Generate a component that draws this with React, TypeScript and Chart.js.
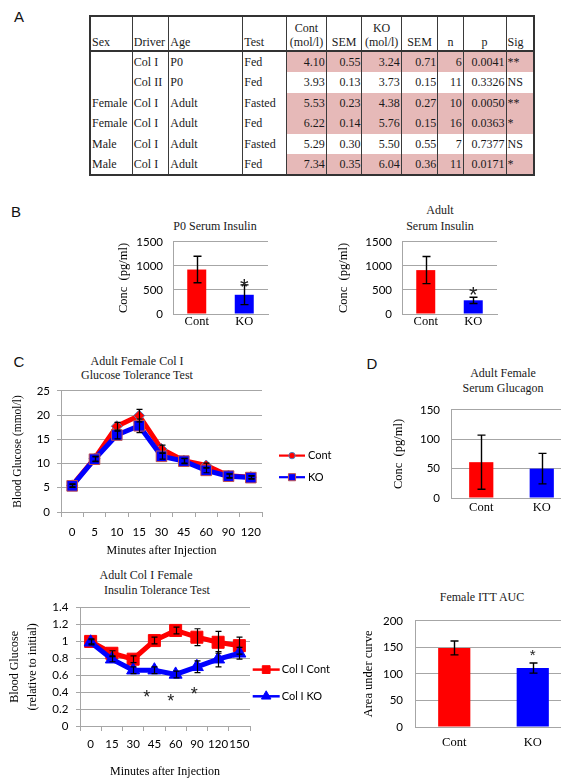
import React, { useEffect, useRef } from "react";
import { Chart, registerables } from "chart.js";
import { drawPoint } from "chart.js/helpers";
Chart.register(...registerables);

// ---------------- Table (panel A) ----------------
const tSex = ["", "", "Female", "Female", "Male", "Male"];
const tDriver = ["Col I", "Col II", "Col I", "Col I", "Col I", "Col I"];
const tAge = ["P0", "P0", "Adult", "Adult", "Adult", "Adult"];
const tTest = ["Fed", "Fed", "Fasted", "Fed", "Fasted", "Fed"];
const tCont = ["4.10", "3.93", "5.53", "6.22", "5.29", "7.34"];
const tContSem = ["0.55", "0.13", "0.23", "0.14", "0.30", "0.35"];
const tKO = ["3.24", "3.73", "4.38", "5.76", "5.50", "6.04"];
const tKOSem = ["0.71", "0.15", "0.27", "0.15", "0.55", "0.36"];
const tN = ["6", "11", "10", "16", "7", "11"];
const tP = ["0.0041", "0.3326", "0.0050", "0.0363", "0.7377", "0.0171"];
const tSig = ["**", "NS", "**", "*", "NS", "*"];

// ---------------- Bar charts ----------------
const groups = ["Cont", "KO"];
const p0Insulin = [925, 400];
const p0InsulinErr = [275, 205];
const p0StarIdx = [1];
const p0StarVal = [674];

const adultInsulin = [913, 285];
const adultInsulinErr = [282, 65];
const adultStarIdx = [1];
const adultStarVal = [494];

const glucagon = [61, 50];
const glucagonErr = [46, 26];

const ittAuc = [149, 111];
const ittAucErr = [13, 9.5];
const aucStarIdx = [1];
const aucStarVal = [141];

// ---------------- GTT ----------------
const gttSeries = ["Cont", "KO"];
const gttMinutes = ["0", "5", "10", "15", "30", "45", "60", "90", "120"];
const gttCont = [5.5, 11.0, 17.7, 19.9, 13.0, 10.6, 9.6, 7.5, 7.2];
const gttContErr = [0.3, 0.5, 0.8, 1.3, 0.8, 0.5, 0.5, 0.4, 0.3];
const gttKO = [5.4, 10.9, 15.9, 17.8, 11.5, 10.5, 8.6, 7.4, 7.1];
const gttKOErr = [0.3, 0.5, 0.8, 1.4, 0.6, 0.5, 0.5, 0.4, 0.3];

// ---------------- ITT ----------------
const ittSeries = ["Col I Cont", "Col I KO"];
const ittMinutes = ["0", "15", "30", "45", "60", "90", "120", "150"];
const ittCont = [1.0, 0.86, 0.79, 1.01, 1.13, 1.05, 0.99, 0.95];
const ittContErr = [0.03, 0.03, 0.04, 0.04, 0.04, 0.1, 0.13, 0.1];
const ittKO = [0.99, 0.79, 0.66, 0.66, 0.61, 0.7, 0.79, 0.86];
const ittKOErr = [0.03, 0.03, 0.04, 0.04, 0.04, 0.07, 0.09, 0.07];
const ittStarIdx = [2.64, 3.77, 4.88];
const ittStarVal = [0.39, 0.34, 0.42];

// ---------------- styles ----------------
const SERIF = "'Liberation Serif', 'Times New Roman', Times, serif";
const SANS = "Lato, 'Open Sans', Arial, sans-serif";
const RED = "#ff0000";
const BLUE = "#0000ff";
const GRID = "#a6a6a6";
const TICKFONT = { family: SANS, size: 11.5 };
const plainTick = (v: any) => String(parseFloat(Number(v).toFixed(4)));

type Box = { x: number; y: number; w: number; h: number };

function ChartCanvas({ box, make }: { box: Box; make: () => any }) {
  const ref = useRef<HTMLCanvasElement>(null);
  useEffect(() => {
    const chart = new Chart(ref.current as HTMLCanvasElement, make());
    return () => chart.destroy();
  }, []);
  return (
    <canvas
      ref={ref}
      width={box.w}
      height={box.h}
      style={{ position: "absolute", left: box.x, top: box.y, width: box.w, height: box.h }}
    />
  );
}

function errorBars(sets: (number[] | null)[], cap: number, lw = 1.4) {
  return {
    id: "errorBars",
    afterDatasetsDraw(chart: any) {
      const ctx = chart.ctx;
      const ys = chart.scales.y;
      ctx.save();
      ctx.strokeStyle = "#000";
      ctx.lineWidth = lw;
      sets.forEach((errs, di) => {
        if (!errs) return;
        const meta = chart.getDatasetMeta(di);
        const data = chart.data.datasets[di].data as number[];
        meta.data.forEach((el: any, i: number) => {
          const e = errs[i];
          if (!e) return;
          const x = Math.round(el.x) + 0.5;
          const t = ys.getPixelForValue(data[i] + e);
          const b = ys.getPixelForValue(data[i] - e);
          ctx.beginPath();
          ctx.moveTo(x, t);
          ctx.lineTo(x, b);
          ctx.moveTo(x - cap / 2, t);
          ctx.lineTo(x + cap / 2, t);
          ctx.moveTo(x - cap / 2, b);
          ctx.lineTo(x + cap / 2, b);
          ctx.stroke();
        });
      });
      ctx.restore();
    },
  };
}

function stars(idx: number[], vals: number[], size: number, family: string, color = "#222") {
  return {
    id: "stars",
    afterDatasetsDraw(chart: any) {
      const ctx = chart.ctx;
      ctx.save();
      ctx.font = `${size}px ${family}`;
      ctx.fillStyle = color;
      ctx.textAlign = "center";
      ctx.textBaseline = "alphabetic";
      idx.forEach((ix, k) => {
        const x = chart.scales.x.getPixelForValue(ix);
        const y = chart.scales.y.getPixelForValue(vals[k]);
        ctx.fillText("*", x, y + size * 0.55);
      });
      ctx.restore();
    },
  };
}

type LegendEntry = { label: string; color: string; style: string; fill: string; border: string; r: number; dy: number };
function lineLegend(entries: LegendEntry[], dx: number, len: number, gap: number, lw: number) {
  return {
    id: "lineLegend",
    afterDraw(chart: any) {
      const ctx = chart.ctx;
      const { right, top } = chart.chartArea;
      ctx.save();
      entries.forEach((e) => {
        const x0 = right + dx;
        const y = top + e.dy;
        ctx.strokeStyle = e.color;
        ctx.lineWidth = lw;
        ctx.beginPath();
        ctx.moveTo(x0, y);
        ctx.lineTo(x0 + len, y);
        ctx.stroke();
        ctx.fillStyle = e.fill;
        ctx.strokeStyle = e.border;
        ctx.lineWidth = 1;
        drawPoint(ctx, { pointStyle: e.style, radius: e.r, rotation: 0, borderWidth: 1 } as any, x0 + len / 2, y);
        ctx.fillStyle = "#000";
        ctx.font = `11px ${SANS}`;
        ctx.textAlign = "left";
        ctx.textBaseline = "middle";
        ctx.fillText(e.label, x0 + len + gap, y);
      });
      ctx.restore();
    },
  };
}

type BarOpts = {
  values: number[];
  errs: number[];
  starIdx: number[];
  starVal: number[];
  starSize: number;
  starFamily: string;
  max: number;
  step: number;
  yTitle: string;
  yTitleSize: number;
  yW: number;
  yTitlePad: number;
  yTickPad: number;
  xH: number;
  xTickPad: number;
  padTop: number;
  padRight: number;
  barPct: number;
  cap: number;
};

function barChart(o: BarOpts) {
  return () => ({
    type: "bar",
    data: {
      labels: groups,
      datasets: [
        {
          data: o.values,
          backgroundColor: [RED, BLUE],
          borderWidth: 0,
          barPercentage: o.barPct,
          categoryPercentage: 1,
        },
      ],
    },
    options: {
      animation: false,
      responsive: false,
      events: [],
      layout: { padding: { top: o.padTop, right: o.padRight, left: 0, bottom: 0 } },
      plugins: { legend: { display: false }, tooltip: { enabled: false } },
      scales: {
        x: {
          grid: { display: false, drawTicks: false },
          border: { display: true, color: GRID },
          ticks: { font: { family: SERIF, size: 12.5 }, color: "#000", padding: o.xTickPad },
          afterFit: (s: any) => {
            s.height = o.xH;
          },
        },
        y: {
          min: 0,
          max: o.max,
          ticks: { stepSize: o.step, font: TICKFONT, color: "#000", padding: o.yTickPad, callback: plainTick },
          grid: { color: GRID, drawTicks: false },
          border: { color: GRID },
          title: {
            display: true,
            text: o.yTitle,
            font: { family: SERIF, size: o.yTitleSize },
            color: "#000",
            padding: { top: o.yTitlePad, bottom: 0 },
          },
          afterFit: (s: any) => {
            s.width = o.yW;
          },
        },
      },
    },
    plugins: [errorBars([o.errs], o.cap), stars(o.starIdx, o.starVal, o.starSize, o.starFamily)],
  });
}

const gttChart = () => ({
  type: "line",
  data: {
    labels: gttMinutes,
    datasets: [
      {
        label: gttSeries[1],
        data: gttKO,
        borderColor: BLUE,
        borderWidth: 5,
        pointStyle: "rect",
        pointRadius: 7.5,
        pointBackgroundColor: BLUE,
        pointBorderColor: "#c0504d",
        pointBorderWidth: 1,
        order: 0,
      },
      {
        label: gttSeries[0],
        data: gttCont,
        borderColor: RED,
        borderWidth: 5,
        pointStyle: "rectRot",
        pointRadius: 5.5,
        pointBackgroundColor: RED,
        pointBorderColor: "#4f81bd",
        pointBorderWidth: 1,
        order: 1,
      },
    ],
  },
  options: {
    animation: false,
    responsive: false,
    events: [],
    layout: { padding: { top: 10, right: 78, left: 0, bottom: 0 } },
    plugins: { legend: { display: false }, tooltip: { enabled: false } },
    scales: {
      x: {
        offset: true,
        grid: { offset: true, drawOnChartArea: false, drawTicks: true, tickLength: 5, color: GRID },
        border: { color: GRID },
        ticks: { font: TICKFONT, color: "#000", padding: 8.8, autoSkip: false, maxRotation: 0, minRotation: 0 },
        title: {
          display: true,
          text: "Minutes after Injection",
          font: { family: SERIF, size: 12 },
          color: "#000",
          padding: { top: 0, bottom: 0 },
        },
        afterFit: (s: any) => {
          s.height = 46;
        },
      },
      y: {
        min: 0,
        max: 25,
        ticks: { stepSize: 5, font: TICKFONT, color: "#000", padding: 7, callback: plainTick },
        grid: { color: GRID, drawTicks: true, tickLength: 4 },
        border: { color: GRID },
        title: {
          display: true,
          text: "Blood Glucose (mmol/l)",
          font: { family: SERIF, size: 11.5 },
          color: "#000",
          padding: { top: 11.1, bottom: 0 },
        },
        afterFit: (s: any) => {
          s.width = 61;
        },
      },
    },
  },
  plugins: [
    errorBars([gttKOErr, gttContErr], 6, 1.2),
    lineLegend(
      [
        { label: gttSeries[0], color: RED, style: "circle", fill: RED, border: "#4f81bd", r: 3.2, dy: 64.7 },
        { label: gttSeries[1], color: BLUE, style: "rect", fill: BLUE, border: "#c0504d", r: 5, dy: 86.3 },
      ],
      17,
      26,
      3,
      2.2
    ),
  ],
});

const ittChart = () => ({
  type: "line",
  data: {
    labels: ittMinutes,
    datasets: [
      {
        label: ittSeries[1],
        data: ittKO,
        borderColor: BLUE,
        borderWidth: 5,
        pointStyle: "triangle",
        pointRadius: 7.5,
        pointBackgroundColor: BLUE,
        pointBorderColor: BLUE,
        pointBorderWidth: 1,
        order: 0,
      },
      {
        label: ittSeries[0],
        data: ittCont,
        borderColor: RED,
        borderWidth: 5,
        pointStyle: "rect",
        pointRadius: 8.5,
        pointBackgroundColor: RED,
        pointBorderColor: RED,
        pointBorderWidth: 1,
        order: 1,
      },
    ],
  },
  options: {
    animation: false,
    responsive: false,
    events: [],
    layout: { padding: { top: 10, right: 90, left: 0, bottom: 0 } },
    plugins: { legend: { display: false }, tooltip: { enabled: false } },
    scales: {
      x: {
        offset: true,
        grid: { offset: true, drawOnChartArea: false, drawTicks: true, tickLength: 5, color: GRID },
        border: { color: GRID },
        ticks: { font: TICKFONT, color: "#000", padding: 6.8, autoSkip: false, maxRotation: 0, minRotation: 0 },
        title: {
          display: true,
          text: "Minutes after Injection",
          font: { family: SERIF, size: 12 },
          color: "#000",
          padding: { top: 0, bottom: 0 },
        },
        afterFit: (s: any) => {
          s.height = 53;
        },
      },
      y: {
        min: 0,
        max: 1.4,
        ticks: { stepSize: 0.2, font: TICKFONT, color: "#000", padding: 7.7, callback: plainTick },
        grid: { color: GRID, drawTicks: true, tickLength: 4 },
        border: { color: GRID },
        title: {
          display: true,
          text: ["Blood Glucose", "(relative to initial)"],
          font: { family: SERIF, size: 12, lineHeight: 1.5 },
          color: "#000",
          padding: { top: 6, bottom: 0 },
        },
        afterFit: (s: any) => {
          s.width = 80;
        },
      },
    },
  },
  plugins: [
    errorBars([ittKOErr, ittContErr], 6, 1.2),
    stars(ittStarIdx, ittStarVal, 18, "'Liberation Sans', Arial, sans-serif", "#222"),
    lineLegend(
      [
        { label: ittSeries[0], color: RED, style: "rect", fill: RED, border: RED, r: 5.5, dy: 62 },
        { label: ittSeries[1], color: BLUE, style: "triangle", fill: BLUE, border: BLUE, r: 5.5, dy: 88.7 },
      ],
      2.7,
      27,
      2,
      2.5
    ),
  ],
});

function Title({ x, y, text }: { x: number; y: number; text: string }) {
  return (
    <div
      style={{
        position: "absolute",
        left: Math.round(x - 100),
        top: Math.round(y - 8),
        width: 200,
        height: 16,
        textAlign: "center",
        whiteSpace: "nowrap",
        fontFamily: SERIF,
        fontWeight: 400,
        fontSize: 12,
        lineHeight: "16px",
        color: "#1a1a1a",
      }}
    >
      {text}
    </div>
  );
}

function PanelLabel({ x, y, text }: { x: number; y: number; text: string }) {
  return (
    <div
      style={{
        position: "absolute",
        left: Math.round(x - 10),
        top: Math.round(y - 9),
        width: 20,
        height: 18,
        textAlign: "center",
        fontFamily: "'Liberation Sans', Arial, sans-serif",
        fontSize: 15,
        lineHeight: "18px",
        color: "#111",
      }}
    >
      {text}
    </div>
  );
}

function DataTable() {
  const colW = [42.3, 36.5, 74, 44, 39.4, 35.8, 39.3, 36.5, 25.4, 42.9, 27.6];
  const LINE = "1px solid #3a3a3a";
  const head: React.ReactNode[] = [
    "Sex",
    "Driver",
    "Age",
    "Test",
    <>Cont<br />(mol/l)</>,
    "SEM",
    <>KO<br />(mol/l)</>,
    "SEM",
    "n",
    "p",
    "Sig",
  ];
  const headAlign = ["left", "left", "left", "left", "center", "center", "center", "center", "center", "center", "left"];
  const cols = [tSex, tDriver, tAge, tTest, tCont, tContSem, tKO, tKOSem, tN, tP, tSig];
  const align = ["left", "left", "left", "left", "right", "right", "right", "right", "right", "right", "left"];
  return (
    <table
      style={{
        position: "absolute",
        left: 89,
        top: 15,
        width: 444,
        borderCollapse: "collapse",
        tableLayout: "fixed",
        border: "2px solid #333",
        fontFamily: SERIF,
        fontSize: 12,
        color: "#1a1a1a",
      }}
    >
      <colgroup>
        {colW.map((w, i) => (
          <col key={i} style={{ width: w }} />
        ))}
      </colgroup>
      <tbody>
        <tr style={{ height: 35 }}>
          {head.map((h, i) => (
            <td
              key={i}
              style={{
                verticalAlign: "bottom",
                textAlign: headAlign[i] as any,
                borderRight: i < 10 ? LINE : undefined,
                borderBottom: "2px solid #333",
                padding: "0 1px 1px 1px",
                lineHeight: "14px",
                whiteSpace: "nowrap",
              }}
            >
              {h}
            </td>
          ))}
        </tr>
        {tSex.map((_, r) => {
          const pink = tSig[r] !== "NS";
          return (
            <tr key={r} style={{ height: 20.5 }}>
              {cols.map((c, i) => (
                <td
                  key={i}
                  style={{
                    textAlign: align[i] as any,
                    borderRight: i < 10 ? LINE : undefined,
                    background: pink && i >= 4 ? "#e6b9b8" : "#fff",
                    padding: align[i] === "right" ? "0 1px 0 0" : "0 0 0 1px",
                    whiteSpace: "nowrap",
                    lineHeight: "20px",
                  }}
                >
                  {c[r]}
                </td>
              ))}
            </tr>
          );
        })}
      </tbody>
    </table>
  );
}

export default function App() {
  return (
    <div
      style={{
        position: "fixed",
        left: 0,
        top: 0,
        width: 561,
        height: 783,
        overflow: "hidden",
        background: "#fff",
      }}
    >
      <PanelLabel x={19} y={17} text="A" />
      <PanelLabel x={16} y={212} text="B" />
      <PanelLabel x={19} y={361.5} text="C" />
      <PanelLabel x={371.5} y={364} text="D" />

      <DataTable />

      <Title x={214.7} y={226} text="P0 Serum Insulin" />
      <Title x={440} y={210} text="Adult" />
      <Title x={440} y={226} text="Serum Insulin" />
      <Title x={137} y={360.7} text="Adult Female Col I" />
      <Title x={137} y={375} text="Glucose Tolerance Test" />
      <Title x={502.7} y={373} text="Adult Female" />
      <Title x={502.7} y={388} text="Serum Glucagon" />
      <Title x={145.7} y={575} text="Adult Col I Female" />
      <Title x={156.7} y={590} text="Insulin Tolerance Test" />
      <Title x={481.7} y={596.7} text="Female ITT AUC" />

      <ChartCanvas
        box={{ x: 105, y: 225, w: 165, h: 111 }}
        make={barChart({
          values: p0Insulin,
          errs: p0InsulinErr,
          starIdx: p0StarIdx,
          starVal: p0StarVal,
          starSize: 22,
          starFamily: "'Liberation Sans', Arial, sans-serif",
          max: 1500,
          step: 500,
          yTitle: "Conc  (pg/ml)",
          yTitleSize: 12.5,
          yW: 68,
          yTitlePad: 10.9,
          yTickPad: 10,
          xH: 22,
          xTickPad: 0,
          padTop: 10,
          padRight: 2,
          barPct: 0.4,
          cap: 8,
        })}
      />
      <ChartCanvas
        box={{ x: 325, y: 225, w: 174, h: 111 }}
        make={barChart({
          values: adultInsulin,
          errs: adultInsulinErr,
          starIdx: adultStarIdx,
          starVal: adultStarVal,
          starSize: 22,
          starFamily: "'Liberation Sans', Arial, sans-serif",
          max: 1500,
          step: 500,
          yTitle: "Conc  (pg/ml)",
          yTitleSize: 12.5,
          yW: 77,
          yTitlePad: 11,
          yTickPad: 10,
          xH: 22,
          xTickPad: 0,
          padTop: 10,
          padRight: 2,
          barPct: 0.4,
          cap: 8,
        })}
      />
      <ChartCanvas box={{ x: 0, y: 377, w: 340, h: 181 }} make={gttChart} />
      <ChartCanvas
        box={{ x: 385, y: 392, w: 188, h: 126 }}
        make={barChart({
          values: glucagon,
          errs: glucagonErr,
          starIdx: [],
          starVal: [],
          starSize: 14,
          starFamily: SERIF,
          max: 150,
          step: 50,
          yTitle: "Conc  (pg/ml)",
          yTitleSize: 12.5,
          yW: 66,
          yTitlePad: 6.5,
          yTickPad: 11,
          xH: 20,
          xTickPad: 2.5,
          padTop: 10,
          padRight: 1,
          barPct: 0.4,
          cap: 8,
        })}
      />
      <ChartCanvas box={{ x: 0, y: 593, w: 340, h: 186 }} make={ittChart} />
      <ChartCanvas
        box={{ x: 355, y: 602, w: 218, h: 149 }}
        make={barChart({
          values: ittAuc,
          errs: ittAucErr,
          starIdx: aucStarIdx,
          starVal: aucStarVal,
          starSize: 15,
          starFamily: "'Liberation Sans', Arial, sans-serif",
          max: 200,
          step: 50,
          yTitle: "Area under curve",
          yTitleSize: 12.5,
          yW: 60,
          yTitlePad: 5.8,
          yTickPad: 12,
          xH: 24,
          xTickPad: 8.5,
          padTop: 10,
          padRight: 1,
          barPct: 0.41,
          cap: 8,
        })}
      />
    </div>
  );
}
